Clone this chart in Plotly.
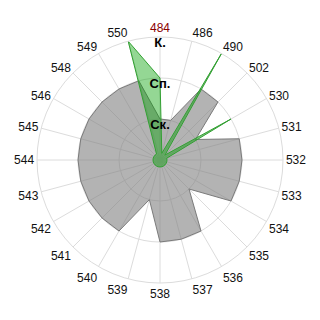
import plotly.graph_objects as go

categories = ["484", "486", "490", "502", "530", "531", "532", "533", "534", "535",
              "536", "537", "538", "539", "540", "541", "542", "543", "544", "545",
              "546", "548", "549", "550"]

gray_values = [1, 1, 2, 2, 1, 2, 2, 2, 2, 1,
               2, 2, 2, 1, 2, 2, 2, 2, 2, 2,
               2, 2, 2, 2]

green_values = [2, 0.17, 3, 0.17, 2, 0.17, 0.17, 0.17, 0.17, 0.17,
                0.17, 0.17, 0.17, 0.17, 0.17, 0.17, 0.17, 0.17, 0.17, 0.17,
                0.17, 0.17, 0.17, 3]

level_values = [1, 2, 3]
level_labels = ["Ск.", "Сп.", "К."]
highlight_category = "484"

theta_closed = categories + categories[:1]

fig = go.Figure()
fig.add_trace(go.Scatterpolar(
    r=gray_values + gray_values[:1], theta=theta_closed,
    mode="lines", fill="toself",
    fillcolor="rgba(128,128,128,0.6)",
    line=dict(color="#7a7a7a", width=1),
    hoverinfo="skip", showlegend=False,
))
fig.add_trace(go.Scatterpolar(
    r=green_values + green_values[:1], theta=theta_closed,
    mode="lines", fill="toself",
    fillcolor="rgba(0,160,0,0.42)",
    line=dict(color="rgb(50,160,50)", width=1),
    hoverinfo="skip", showlegend=False,
))
fig.add_trace(go.Scatterpolar(
    r=level_values, theta=[highlight_category] * len(level_values),
    mode="text", text=[f"<b>{t}</b>" for t in level_labels],
    textposition="bottom center",
    textfont=dict(family="Liberation Sans, Arial, sans-serif", size=13, color="#000"),
    hoverinfo="skip", showlegend=False,
))

ticktext = [f"<span style='color:#8b0000'>{c}</span>" if c == highlight_category else c
            for c in categories]

fig.update_layout(
    width=320, height=320,
    margin=dict(l=37, r=37, t=37, b=37),
    paper_bgcolor="white",
    font=dict(family="Liberation Sans, Arial, sans-serif", size=12, color="#000"),
    polar=dict(
        bgcolor="white",
        angularaxis=dict(
            type="category",
            categoryorder="array", categoryarray=categories,
            direction="clockwise", rotation=90,
            tickmode="array", tickvals=categories, ticktext=ticktext,
            showline=True, linecolor="#dcdcdc", linewidth=1,
            gridcolor="#dcdcdc", gridwidth=1,
            ticks="", tickfont=dict(size=12, color="#111"),
        ),
        radialaxis=dict(
            range=[0, 3], tickvals=level_values,
            showticklabels=False, ticks="",
            showline=False, gridcolor="#dcdcdc", gridwidth=1,
        ),
    ),
)

fig.write_html("out.html")
